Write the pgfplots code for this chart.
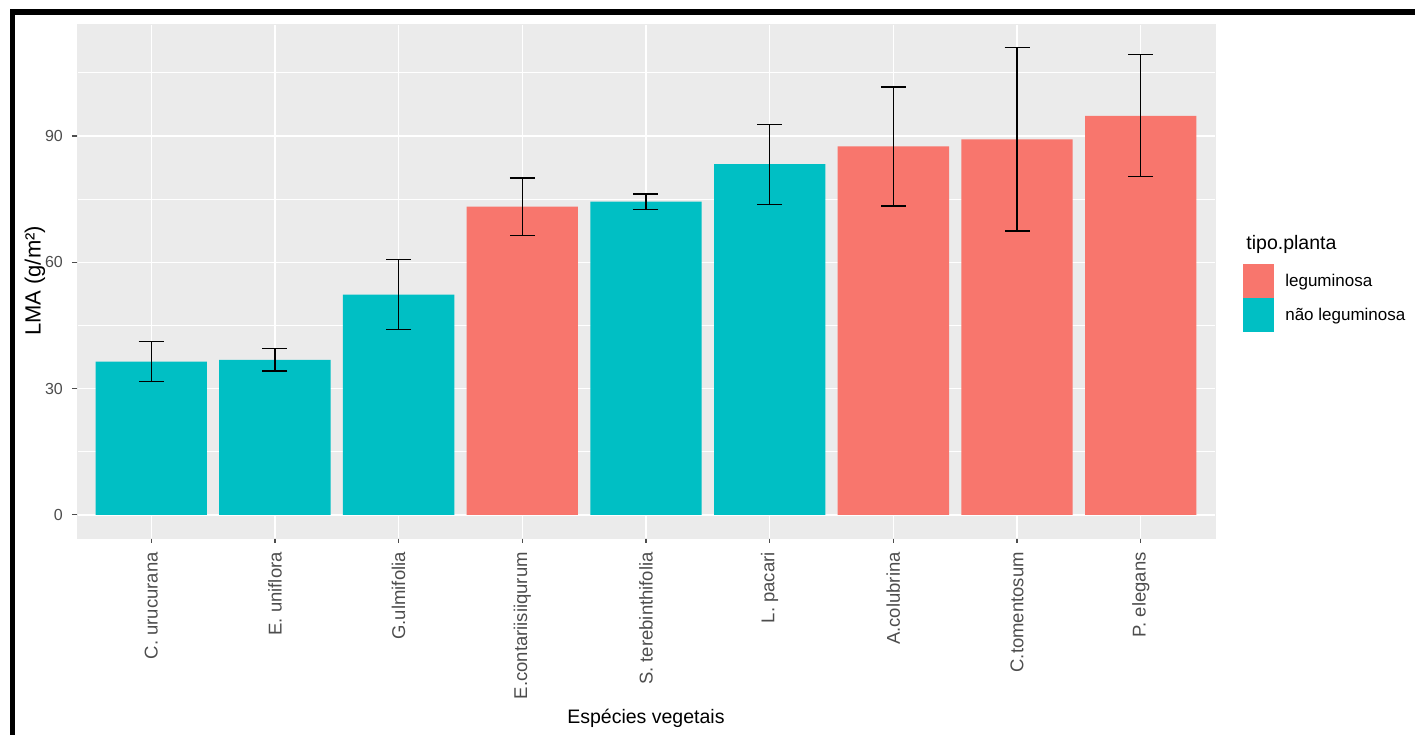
\documentclass[border=0pt]{standalone}
\usepackage{fontspec}
\setmainfont{Liberation Sans}
\usepackage{pgfplots}
\pgfplotsset{compat=1.18}

\definecolor{legcol}{HTML}{F8766D}
\definecolor{naocol}{HTML}{00BFC4}
\definecolor{panelgrey}{HTML}{EBEBEB}
\definecolor{txtgrey}{HTML}{4D4D4D}

\begin{document}
\begin{tikzpicture}
\path[use as bounding box] (0pt,0pt) rectangle (1415pt,735pt);
% black frame along the top and left edges
\fill[black] (10pt,720pt) rectangle (1415pt,726pt);
\fill[black] (10pt,0pt) rectangle (15pt,726pt);

\begin{axis}[
  at={(77pt,197pt)}, anchor=south west,
  scale only axis, width=1138pt, height=514pt,
  xmin=0.4, xmax=9.6, ymin=-5.5, ymax=116.6,
  clip=false,
  axis background/.style={fill=panelgrey},
  axis line style={draw=panelgrey, line width=0.1pt},
  xtick={1,...,9},
  xticklabels={C. urucurana, E. uniflora, G.ulmifolia, E.contariisiiqurum,
               S. terebinthifolia, L. pacari, A.colubrina, C.tomentosum, P. elegans},
  ytick={0,30,60,90},
  minor ytick={15,45,75,105},
  grid=both,
  major grid style={draw=white, line width=1.4pt},
  minor grid style={draw=white, line width=0.7pt},
  tick pos=left,
  tick align=outside,
  major tick length=5pt,
  minor tick length=0pt,
  major tick style={draw=txtgrey, line width=1.2pt},
  /pgf/number format/assume math mode=true,
  ticklabel style={text=txtgrey},
  yticklabel shift=9pt,
  xticklabel shift=9pt,
  yticklabel style={font=\fontsize{16}{16}\selectfont, inner sep=0pt, anchor=east},
  xticklabel style={font=\fontsize{18.5}{18.5}\selectfont, inner sep=0pt, rotate=90, anchor=east},
  xlabel={Espécies vegetais},
  ylabel={LMA (g/m²)},
  xlabel style={at={(axis description cs:0.5,-0.36)}, anchor=base,
                font=\fontsize{19.5}{19.5}\selectfont},
  ylabel style={at={(axis description cs:-0.0369,0.5)}, anchor=center,
                font=\fontsize{22}{22}\selectfont},
  legend style={at={(axis description cs:1.0246,0.533)}, anchor=north west,
                draw=none, fill=none, inner sep=0pt, outer sep=0pt,
                row sep=0pt, font=\fontsize{17}{17}\selectfont,
                nodes={inner sep=0pt},
                /tikz/every odd column/.append style={column sep=12pt}},
  legend cell align=left,
]

% leguminosa
\addplot[ybar, bar width=0.9, bar shift=0pt, fill=legcol, draw=none, forget plot,
  error bars/.cd, y dir=both, y explicit,
  error bar style={draw=black, line width=1.3pt},
  error mark options={draw=black, line width=1.3pt, mark size=12.5pt, rotate=90}]
  coordinates {
    (4,73.2) +- (0,6.8)
    (7,87.5) +- (0,14.1)
    (8,89.2) +- (0,21.8)
    (9,94.8) +- (0,14.5)
  };

% nao leguminosa
\addplot[ybar, bar width=0.9, bar shift=0pt, fill=naocol, draw=none, forget plot,
  error bars/.cd, y dir=both, y explicit,
  error bar style={draw=black, line width=1.3pt},
  error mark options={draw=black, line width=1.3pt, mark size=12.5pt, rotate=90}]
  coordinates {
    (1,36.4) +- (0,4.8)
    (2,36.8) +- (0,2.65)
    (3,52.3) +- (0,8.3)
    (5,74.4) +- (0,1.8)
    (6,83.3) +- (0,9.5)
  };

\addlegendimage{legend image code/.code={\fill[legcol] (0pt,-16.75pt) rectangle (30pt,16.75pt);}}
\addlegendentry{leguminosa}
\addlegendimage{legend image code/.code={\fill[naocol] (0pt,-16.75pt) rectangle (30pt,16.75pt);}}
\addlegendentry{não leguminosa}

\node[anchor=base west, font=\fontsize{19.5}{19.5}\selectfont]
  at (axis description cs:1.0246,0.5603) {tipo.planta};
\end{axis}
\end{tikzpicture}
\end{document}
